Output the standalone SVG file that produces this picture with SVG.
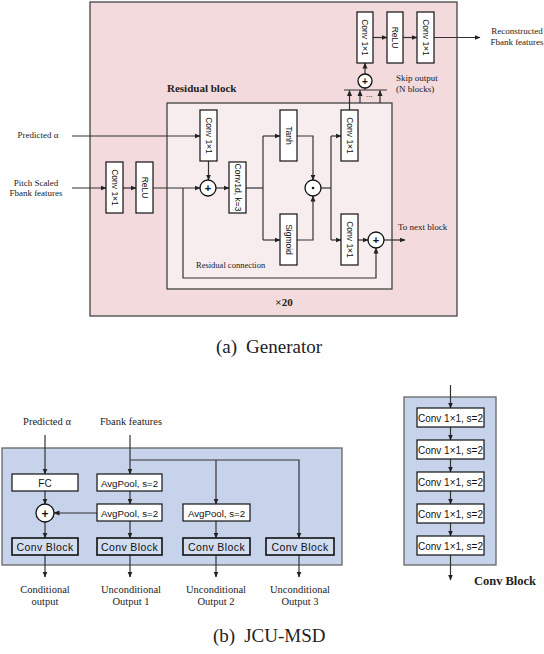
<svg xmlns="http://www.w3.org/2000/svg" width="544" height="654" viewBox="0 0 544 654">
<defs>
<marker id="ah" markerWidth="6" markerHeight="6" refX="5.5" refY="3" orient="auto" markerUnits="userSpaceOnUse"><path d="M0,0.5 L6,3 L0,5.5 z" fill="#222"/></marker>
</defs>
<style>
.serif{font-family:"Liberation Serif","Times New Roman",serif;fill:#222}
.sans{font-family:"Liberation Sans",Arial,sans-serif;fill:#111}
.bold{font-weight:bold}
.box{fill:#fff;stroke:#111;stroke-width:1.2}
.cb{fill:#d3ddf0;stroke:#111;stroke-width:1.6}
.ln{fill:none;stroke:#333;stroke-width:1.2}
.arr{marker-end:url(#ah)}
.circ{fill:#fff;stroke:#111;stroke-width:1.3}
.vt{font-size:8.5px;text-anchor:middle}
.small{font-size:9px}
.mid{text-anchor:middle}
</style>
<rect width="544" height="654" fill="#fff"/>

<!-- (a) Generator -->
<g id="generator-frame">
<rect x="90" y="2" width="367" height="314" fill="#f2dadd" stroke="#444" stroke-width="1.3"/>
</g>
<g id="residual-block">
<rect x="167" y="103" width="225" height="186" fill="#f7ecee" stroke="#444" stroke-width="1.3"/>
<text class="serif bold" x="167" y="92" font-size="11">Residual block</text>
<text class="serif bold mid" x="284" y="306" font-size="11">×20</text>
</g>

<g id="connectors-generator">
<line class="ln arr" x1="72" y1="136" x2="200" y2="136"/>
<line class="ln arr" x1="208.5" y1="161" x2="208.5" y2="180"/>
<line class="ln arr" x1="72" y1="188" x2="106" y2="188"/>
<line class="ln arr" x1="123" y1="188" x2="136" y2="188"/>
<line class="ln arr" x1="153" y1="188" x2="200" y2="188"/>
<line class="ln arr" x1="216" y1="188" x2="229" y2="188"/>
<polyline class="ln" points="246,188 263,188"/>
<line class="ln" x1="263" y1="136" x2="263" y2="240"/>
<line class="ln arr" x1="263" y1="136" x2="280" y2="136"/>
<line class="ln arr" x1="263" y1="240" x2="280" y2="240"/>
<polyline class="ln arr" points="297,136 313,136 313,180"/>
<polyline class="ln arr" points="297,240 313,240 313,196"/>
<polyline class="ln" points="321,188 331,188"/>
<line class="ln" x1="331" y1="136" x2="331" y2="240"/>
<line class="ln arr" x1="331" y1="136" x2="341" y2="136"/>
<line class="ln arr" x1="331" y1="240" x2="341" y2="240"/>
<line class="ln arr" x1="358" y1="240" x2="368" y2="240"/>
<line class="ln arr" x1="384" y1="240" x2="405" y2="240"/>
<polyline class="ln arr" points="183,188 183,278 376,278 376,248"/>
<line class="ln arr" x1="349.5" y1="110" x2="349.5" y2="90.5"/>
<line class="ln arr" x1="360" y1="103" x2="360" y2="90.5"/>
<line class="ln arr" x1="380" y1="103" x2="380" y2="90.5"/>
<line class="ln" x1="344" y1="90" x2="387" y2="90"/>
<line class="ln" x1="365" y1="90" x2="365" y2="88"/>
<line class="ln arr" x1="365" y1="74" x2="365" y2="63"/>
<line class="ln arr" x1="373" y1="37.5" x2="387" y2="37.5"/>
<line class="ln arr" x1="403" y1="37.5" x2="417" y2="37.5"/>
<line class="ln arr" x1="434" y1="37.5" x2="480" y2="37.5"/>
</g>

<g id="label-predicted-alpha-a"><text class="serif small mid" x="38" y="138">Predicted α</text></g>
<g id="label-pitch"><text class="serif small mid" x="36" y="185.5">Pitch Scaled</text><text class="serif small mid" x="36" y="196">Fbank features</text></g>
<g id="label-reconstructed"><text class="serif small mid" x="517" y="34">Reconstructed</text><text class="serif small mid" x="517" y="45">Fbank features</text></g>
<g id="label-skip"><text class="serif small" x="396" y="81">Skip output</text><text class="serif small" x="396" y="92">(N blocks)</text><text class="serif" x="366" y="97" font-size="9">...</text></g>
<g id="label-next"><text class="serif small" x="398" y="230">To next block</text></g>
<g id="label-residual-conn"><text class="serif" x="196" y="268" font-size="8.5">Residual connection</text></g>

<g id="conv-in"><rect class="box" x="106" y="162" width="17" height="51"/><text class="sans vt" transform="translate(114.5,187.5) rotate(90)" dy="3">Conv 1×1</text></g>
<g id="relu-in"><rect class="box" x="136" y="162" width="17" height="51"/><text class="sans vt" transform="translate(144.5,187.5) rotate(90)" dy="3">ReLU</text></g>
<g id="conv-alpha"><rect class="box" x="200" y="110" width="17" height="51"/><text class="sans vt" transform="translate(208.5,135.5) rotate(90)" dy="3">Conv 1×1</text></g>
<g id="plus-in"><circle class="circ" cx="208" cy="188" r="8"/><text class="sans bold mid" x="208" y="192" font-size="11">+</text></g>
<g id="conv1d"><rect class="box" x="229" y="162" width="17" height="51"/><text class="sans vt" transform="translate(237.5,187.5) rotate(90)" dy="3">Conv1d, k=3</text></g>
<g id="tanh"><rect class="box" x="280" y="110" width="17" height="51"/><text class="sans vt" transform="translate(288.5,135.5) rotate(90)" dy="3">Tanh</text></g>
<g id="sigmoid"><rect class="box" x="280" y="214" width="17" height="51"/><text class="sans vt" transform="translate(288.5,239.5) rotate(90)" dy="3">Sigmoid</text></g>
<g id="gate"><circle class="circ" cx="313" cy="188" r="8"/><circle cx="313" cy="188" r="1.3" fill="#111"/></g>
<g id="conv-skip"><rect class="box" x="341" y="110" width="17" height="51"/><text class="sans vt" transform="translate(349.5,135.5) rotate(90)" dy="3">Conv 1×1</text></g>
<g id="conv-res"><rect class="box" x="341" y="214" width="17" height="51"/><text class="sans vt" transform="translate(349.5,239.5) rotate(90)" dy="3">Conv 1×1</text></g>
<g id="plus-res"><circle class="circ" cx="376" cy="240" r="8"/><text class="sans bold mid" x="376" y="244" font-size="11">+</text></g>
<g id="plus-skip"><circle class="circ" cx="365" cy="81" r="7"/><text class="sans bold mid" x="365" y="85" font-size="10">+</text></g>
<g id="conv-out1"><rect class="box" x="357" y="12" width="16" height="51"/><text class="sans vt" transform="translate(365,37.5) rotate(90)" dy="3">Conv 1×1</text></g>
<g id="relu-out"><rect class="box" x="387" y="12" width="16" height="51"/><text class="sans vt" transform="translate(395,37.5) rotate(90)" dy="3">ReLU</text></g>
<g id="conv-out2"><rect class="box" x="417" y="12" width="17" height="51"/><text class="sans vt" transform="translate(425.5,37.5) rotate(90)" dy="3">Conv 1×1</text></g>

<g id="caption-a"><text class="serif" x="216" y="353" font-size="19" fill="#111">(a)<tspan dx="9">Generator</tspan></text></g>

<!-- (b) JCU-MSD -->
<g id="msd-frame"><rect x="2" y="448" width="340" height="117" fill="#c6d3ea" stroke="#666" stroke-width="1.3"/></g>

<g id="connectors-msd">
<line class="ln arr" x1="45" y1="435" x2="45" y2="474"/>
<line class="ln arr" x1="130" y1="435" x2="130" y2="474"/>
<polyline class="ln arr" points="130,460 299,460 299,538"/>
<line class="ln arr" x1="216" y1="460" x2="216" y2="504"/>
<line class="ln arr" x1="45" y1="491" x2="45" y2="504"/>
<line class="ln arr" x1="45" y1="522" x2="45" y2="538"/>
<line class="ln arr" x1="130" y1="491" x2="130" y2="504"/>
<line class="ln arr" x1="97" y1="513" x2="54" y2="513"/>
<line class="ln arr" x1="130" y1="521" x2="130" y2="538"/>
<line class="ln arr" x1="216" y1="521" x2="216" y2="538"/>
<line class="ln arr" x1="45" y1="555" x2="45" y2="577"/>
<line class="ln arr" x1="130" y1="555" x2="130" y2="577"/>
<line class="ln arr" x1="216" y1="555" x2="216" y2="577"/>
<line class="ln arr" x1="299" y1="555" x2="299" y2="577"/>
</g>

<g id="label-predicted-alpha-b"><text class="serif mid" x="47" y="425" font-size="10.5">Predicted α</text></g>
<g id="label-fbank"><text class="serif mid" x="131" y="425" font-size="10.5">Fbank features</text></g>

<g id="fc"><rect class="box" x="12" y="474" width="66" height="17"/><text class="sans mid" x="45" y="486.5" font-size="10">FC</text></g>
<g id="avgpool1"><rect class="box" x="97" y="474" width="65" height="17"/><text class="sans mid" x="129.5" y="486.5" font-size="9.7">AvgPool, s=2</text></g>
<g id="avgpool2"><rect class="box" x="97" y="504" width="65" height="17"/><text class="sans mid" x="129.5" y="516.5" font-size="9.7">AvgPool, s=2</text></g>
<g id="avgpool3"><rect class="box" x="183" y="504" width="67" height="17"/><text class="sans mid" x="216.5" y="516.5" font-size="9.7">AvgPool, s=2</text></g>
<g id="plus-msd"><circle class="circ" cx="45" cy="513" r="9"/><text class="sans bold mid" x="45" y="517.5" font-size="12">+</text></g>
<g id="convblock1"><rect class="cb" x="12" y="538" width="66" height="17"/><text class="sans mid" x="45" y="550.5" font-size="10.5" letter-spacing="0.4">Conv Block</text></g>
<g id="convblock2"><rect class="cb" x="97" y="538" width="65" height="17"/><text class="sans mid" x="129.5" y="550.5" font-size="10.5" letter-spacing="0.4">Conv Block</text></g>
<g id="convblock3"><rect class="cb" x="183" y="538" width="67" height="17"/><text class="sans mid" x="216.5" y="550.5" font-size="10.5" letter-spacing="0.4">Conv Block</text></g>
<g id="convblock4"><rect class="cb" x="266" y="538" width="68" height="17"/><text class="sans mid" x="300" y="550.5" font-size="10.5" letter-spacing="0.4">Conv Block</text></g>

<g id="out-conditional"><text class="serif mid" x="45" y="593" font-size="10.5">Conditional</text><text class="serif mid" x="45" y="605" font-size="10.5">output</text></g>
<g id="out-uncond1"><text class="serif mid" x="131" y="593" font-size="10.5">Unconditional</text><text class="serif mid" x="131" y="605" font-size="10.5">Output 1</text></g>
<g id="out-uncond2"><text class="serif mid" x="216" y="593" font-size="10.5">Unconditional</text><text class="serif mid" x="216" y="605" font-size="10.5">Output 2</text></g>
<g id="out-uncond3"><text class="serif mid" x="300" y="593" font-size="10.5">Unconditional</text><text class="serif mid" x="300" y="605" font-size="10.5">Output 3</text></g>

<!-- Conv Block detail -->
<g id="convblock-frame"><rect x="404" y="397" width="92" height="168" fill="#c6d3ea" stroke="#666" stroke-width="1.3"/></g>
<g id="connectors-convblock">
<line class="ln arr" x1="450.5" y1="385" x2="450.5" y2="408"/>
<line class="ln arr" x1="450.5" y1="427" x2="450.5" y2="440"/>
<line class="ln arr" x1="450.5" y1="459" x2="450.5" y2="472"/>
<line class="ln arr" x1="450.5" y1="491" x2="450.5" y2="504"/>
<line class="ln arr" x1="450.5" y1="523" x2="450.5" y2="536"/>
<line class="ln arr" x1="450.5" y1="555" x2="450.5" y2="580"/>
</g>
<g id="cb-conv1"><rect class="box" x="417" y="408" width="67" height="19"/><text class="sans mid" x="450.5" y="421.5" font-size="10">Conv 1×1, s=2</text></g>
<g id="cb-conv2"><rect class="box" x="417" y="440" width="67" height="19"/><text class="sans mid" x="450.5" y="453.5" font-size="10">Conv 1×1, s=2</text></g>
<g id="cb-conv3"><rect class="box" x="417" y="472" width="67" height="19"/><text class="sans mid" x="450.5" y="485.5" font-size="10">Conv 1×1, s=2</text></g>
<g id="cb-conv4"><rect class="box" x="417" y="504" width="67" height="19"/><text class="sans mid" x="450.5" y="517.5" font-size="10">Conv 1×1, s=2</text></g>
<g id="cb-conv5"><rect class="box" x="417" y="536" width="67" height="19"/><text class="sans mid" x="450.5" y="549.5" font-size="10">Conv 1×1, s=2</text></g>
<g id="label-convblock"><text class="serif bold mid" x="505" y="585" font-size="12.5">Conv Block</text></g>

<g id="caption-b"><text class="serif" x="213" y="642" font-size="19" fill="#111">(b)<tspan dx="9">JCU-MSD</tspan></text></g>
</svg>
